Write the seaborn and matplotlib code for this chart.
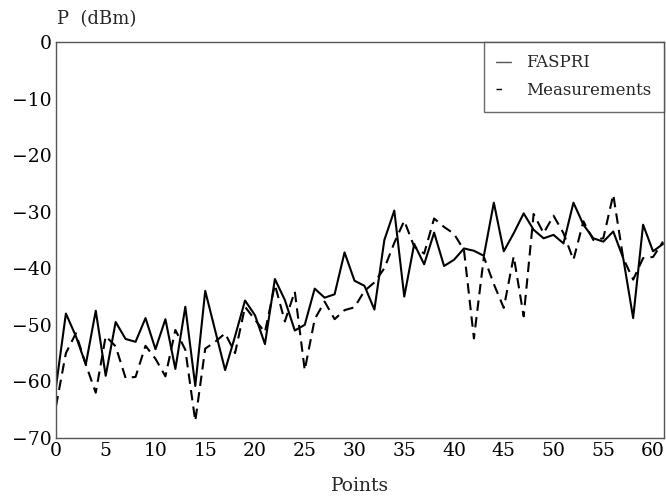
import numpy as np
import pandas as pd
import matplotlib
matplotlib.use("Agg")
import matplotlib.pyplot as plt
import seaborn as sns
from matplotlib.lines import Line2D

# values
points = list(range(62))
faspri = [-61, -48, -52, -57, -47.5, -59, -49.5, -52.5, -53, -48.8, -54.3, -49, -57.8, -46.8, -60.8,
          -44, -51, -58, -52, -45.7, -48.3, -53.4, -41.9, -45.6, -51, -50, -43.6, -45.2, -44.6, -37.2,
          -42.2, -43.1, -47.3, -35, -29.8, -45, -35.7, -39.3, -33.7, -39.6, -38.5, -36.5, -36.9, -37.8,
          -28.4, -37, -33.8, -30.3, -33.2, -34.7, -34.1, -35.6, -28.4, -32.3, -34.7, -35.3, -33.5,
          -38.2, -48.8, -32.3, -37, -35.7]
measurements = [-64.4, -55, -51.5, -57, -62, -52, -53.8, -59.4, -59.2, -53.7, -56, -59.1, -50.9,
                -54.4, -67, -54.2, -53, -51.5, -55, -46.8, -49.1, -51.3, -42.9, -49.4, -44.1, -58,
                -49, -45.9, -49, -47.4, -46.9, -44, -42.5, -40, -35.5, -31.6, -36.2, -37.4, -31.2,
                -32.7, -33.9, -36.8, -52.4, -38, -42.8, -47, -37.9, -48.5, -30.4, -33.8, -30.7, -33.8,
                -38.5, -31.7, -35, -34.7, -27, -38.2, -42, -38.2, -38, -35.3]

df = pd.DataFrame({"Points": points + points,
                   "P": faspri + measurements,
                   "series": ["FASPRI"] * len(points) + ["Measurements"] * len(points)})

sns.set_theme(style="white")
plt.rcParams["font.family"] = ["DejaVu Serif"]

fig = plt.figure(figsize=(6.66, 4.98), dpi=100)
ax = fig.add_axes([0.084, 0.1205, 0.913, 0.7952])

sns.lineplot(data=df, x="Points", y="P", hue="series", style="series",
             palette=["black", "black"], dashes=[(None, None), (5, 3)],
             linewidth=1.5, ax=ax, legend=False)

ax.set_xlim(0, 61.1)
ax.set_ylim(-70, 0)
ax.set_xticks(range(0, 61, 5))
ax.set_yticks(range(-70, 1, 10))
ax.tick_params(axis="both", labelsize=13.5, length=2, direction="in", colors="#444444",
               labelcolor="black", pad=3)
for s in ax.spines.values():
    s.set_color("#555555")
    s.set_linewidth(1.0)

ax.set_xlabel("Points", fontsize=13.5, labelpad=12)
ax.set_ylabel("")
fig.text(0.086, 0.962, "P  (dBm)", fontsize=13, ha="left", va="center")

handles = [Line2D([], [], color="#555555", lw=1.0),
           Line2D([], [], color="black", lw=1.0, dashes=(4, 20))]
leg = ax.legend(handles, ["FASPRI", "Measurements"], loc="upper right", fontsize=12,
                frameon=True, fancybox=False, handlelength=0.9, handletextpad=0.9,
                borderaxespad=0.0, borderpad=0.75, labelspacing=0.65)
leg.get_frame().set_edgecolor("#444444")
leg.get_frame().set_linewidth(1.0)

fig.savefig("out.png", dpi=100)
